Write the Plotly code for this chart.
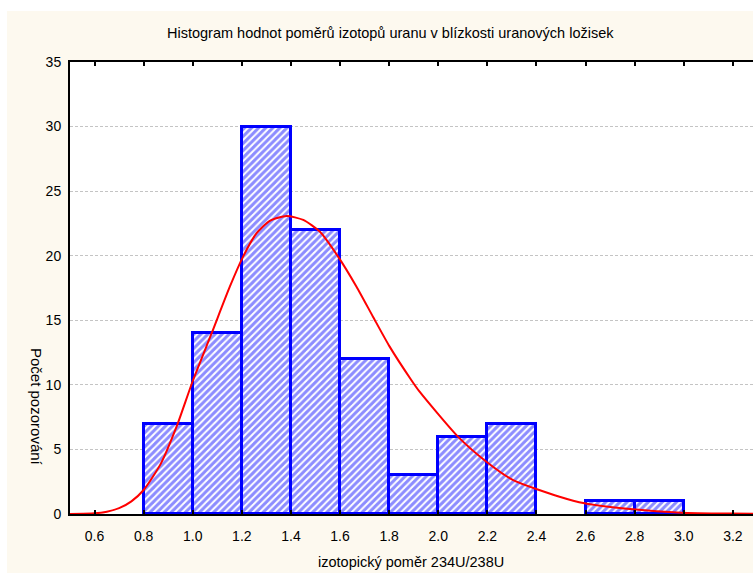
import plotly.graph_objects as go

# Histogram bins (left edges), width 0.2
bin_left = [0.8, 1.0, 1.2, 1.4, 1.6, 1.8, 2.0, 2.2, 2.4, 2.6, 2.8]
counts = [7, 14, 30, 22, 12, 3, 6, 7, 0, 1, 1]
bin_width = 0.2

# Fitted curve, points
curve_x = [0.5, 0.6, 0.65, 0.7, 0.75, 0.8, 0.87, 0.934, 1.0, 1.077, 1.151, 1.205, 1.26,
           1.314, 1.382, 1.45, 1.517, 1.592, 1.667, 1.734, 1.802, 1.89, 1.924, 2.08,
           2.196, 2.305, 2.494, 2.596, 2.793, 2.99, 3.19, 3.282]
curve_y = [0.0, 0.05, 0.18, 0.45, 0.98, 1.86, 3.9, 6.76, 10.3, 14.0, 17.6, 19.93, 21.74,
           22.7, 23.08, 22.77, 21.87, 19.93, 17.6, 15.28, 12.96, 10.38, 9.47, 5.99,
           4.05, 2.63, 1.34, 0.83, 0.36, 0.1, 0.03, 0.02]

x_ticks = [0.6, 0.8, 1.0, 1.2, 1.4, 1.6, 1.8, 2.0, 2.2, 2.4, 2.6, 2.8, 3.0, 3.2]
y_ticks = [0, 5, 10, 15, 20, 25, 30, 35]

title_text = "Histogram hodnot poměrů izotopů uranu v blízkosti uranových ložisek"
x_title = "izotopický poměr 234U/238U"
y_title = "Počet pozorování"

FONT = "Liberation Sans, Arial, sans-serif"
CREAM = "#fdf9ef"

bx = [l + bin_width / 2 for l, c in zip(bin_left, counts) if c > 0]
by = [c for c in counts if c > 0]

fig = go.Figure()
fig.add_trace(go.Bar(
    x=bx, y=by, width=bin_width,
    marker=dict(
        color="white",
        line=dict(color="#0000ff", width=3),
        pattern=dict(shape="/", fgcolor="#1a1aff", bgcolor="white", size=5, solidity=0.6),
    ),
    showlegend=False, hoverinfo="skip",
))
fig.add_trace(go.Scatter(
    x=curve_x, y=curve_y, mode="lines",
    line=dict(color="#ff0000", width=2, shape="spline", smoothing=0.6),
    showlegend=False, hoverinfo="skip",
))

fig.update_layout(
    width=753, height=573,
    margin=dict(l=70, r=0, t=62, b=59),
    paper_bgcolor=CREAM, plot_bgcolor="white",
    font=dict(family=FONT, size=14, color="black"),
    bargap=0,
    xaxis=dict(
        range=[0.5, 3.282], tickvals=x_ticks,
        ticktext=[f"{v:.1f}" for v in x_ticks],
        showgrid=False, zeroline=False,
        showline=True, linecolor="black", linewidth=2, mirror="ticks",
        ticks="inside", ticklen=4, tickwidth=1.5, tickcolor="black",
        ticklabelstandoff=8,
    ),
    yaxis=dict(
        range=[0, 35], tickvals=y_ticks,
        showgrid=True, gridcolor="#c4c4c4", gridwidth=1, griddash="3px,2px",
        zeroline=False,
        showline=True, linecolor="black", linewidth=2, mirror=False,
        ticks="", ticklabelstandoff=4,
    ),
    shapes=[
        dict(type="rect", xref="paper", yref="paper", x0=-0.2, x1=1.2,
             y0=1 + (62 - 11) / 452, y1=1.5,
             fillcolor="white", line=dict(width=0), layer="above"),
        dict(type="rect", xref="paper", yref="paper", x0=-0.2, x1=-(70 - 7) / 683,
             y0=-0.3, y1=1.5, fillcolor="white", line=dict(width=0), layer="above"),
    ],
    annotations=[
        dict(text=title_text, x=390, y=33, showarrow=False, font=dict(family=FONT, size=14.5)),
        dict(text=x_title, x=411, y=562, showarrow=False, font=dict(family=FONT, size=14.5)),
        dict(text=y_title, x=37, y=407, showarrow=False, textangle=90,
             font=dict(family=FONT, size=15)),
    ],
)

# convert pixel positions of annotations to paper coords
def px_to_paper(px, py):
    return (px - 70) / 683, (514 - py) / 452

new_ann = []
for a in fig.layout.annotations:
    px, py = px_to_paper(a.x, a.y)
    a.update(x=px, y=py, xref="paper", yref="paper", xanchor="center", yanchor="middle")
    new_ann.append(a)
fig.layout.annotations = new_ann

fig.write_html("out.html")
